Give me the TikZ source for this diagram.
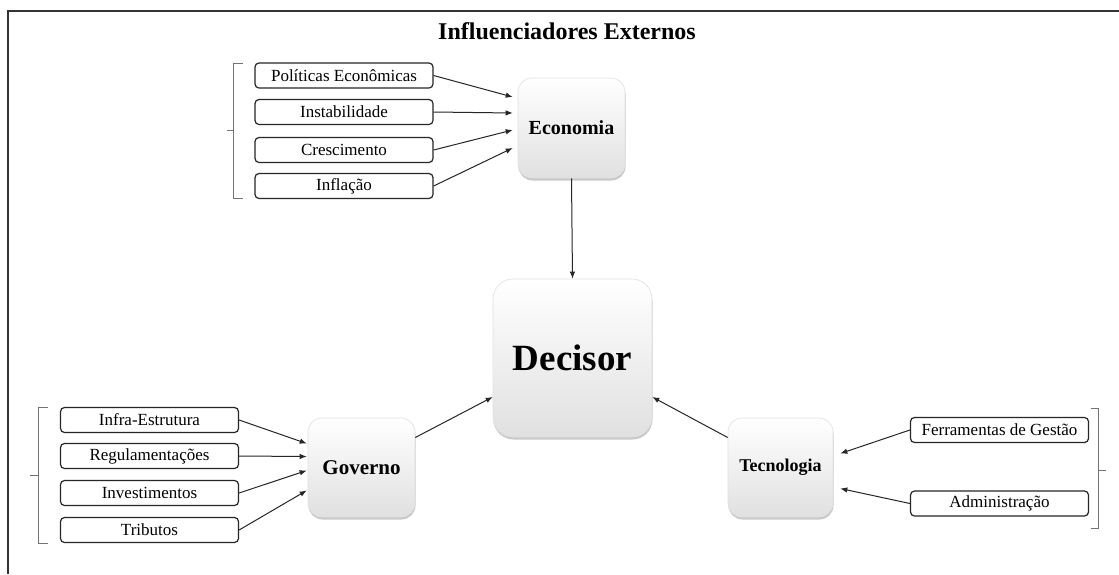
\documentclass[tikz,border=0pt]{standalone}
\usepackage{fontspec}
\setmainfont{Liberation Serif}
\newfontfamily\tnrfont{Liberation Serif}
\usetikzlibrary{arrows.meta,shadows,calc}
\begin{document}
\begin{tikzpicture}[x=1pt,y=-1pt,
  smallbox/.style={draw=black!85, line width=1.2pt, rounded corners=4pt, minimum width=178pt, minimum height=25pt, inner sep=0pt, font=\tnrfont\fontsize{17}{19}\selectfont},
  bigbox/.style={draw=black!12, line width=0.6pt, rounded corners=14pt, top color=white, bottom color=black!12, inner sep=0pt,
     drop shadow={shadow xshift=0.5pt, shadow yshift=-2.5pt, opacity=0.35, fill=black!60}},
  arr/.style={-{Latex[length=7pt,width=5.5pt]}, line width=1pt, draw=black!85},
  brace/.style={draw=black!55, line width=0.9pt}
]
\useasboundingbox (0,0) rectangle (1119,574);
\fill[white] (0,0) rectangle (1119,574);
\draw[line width=1.6pt, draw=black!80] (8,574) -- (8,11) -- (1119,11);

\node[font=\tnrfont\bfseries\fontsize{24}{26}\selectfont] (title) at (567,31) {Influenciadores Externos};

% big boxes
\node[bigbox, minimum width=107pt, minimum height=100pt, font=\tnrfont\bfseries\fontsize{20}{22}\selectfont] (eco) at (571.5,128) {Economia};
\node[bigbox, minimum width=159pt, minimum height=158pt, rounded corners=20pt, font=\tnrfont\bfseries\fontsize{37}{40}\selectfont] (dec) at (572.5,358) {Decisor};
\node[bigbox, minimum width=107pt, minimum height=99pt, font=\tnrfont\bfseries\fontsize{21}{23}\selectfont] (gov) at (361.5,467.5) {Governo};
\node[bigbox, minimum width=105pt, minimum height=99pt, font=\tnrfont\bfseries\fontsize{18}{20}\selectfont] (tec) at (780.5,467.5) {Tecnologia};

% economy items
\node[smallbox] (p1) at (344,75.5) {Políticas Econômicas};
\node[smallbox] (p2) at (344,112) {Instabilidade};
\node[smallbox] (p3) at (344,150) {Crescimento};
\node[smallbox] (p4) at (344,186) {Inflação};

% government items
\node[smallbox] (g1) at (149.5,420) {Infra-Estrutura};
\node[smallbox] (g2) at (149.5,456) {Regulamentações};
\node[smallbox] (g3) at (149.5,493) {Investimentos};
\node[smallbox] (g4) at (149.5,530) {Tributos};

% technology items
\node[smallbox] (t1) at (999.5,430) {Ferramentas de Gestão};
\node[smallbox] (t2) at (999.5,503.5) {Administração};

% arrows to Economia
\draw[arr] (p1.east) -- ([shift={(-5,-31)}]eco.west);
\draw[arr] (p2.east) -- ([shift={(-5,-15)}]eco.west);
\draw[arr] (p3.east) -- ([shift={(-5,2)}]eco.west);
\draw[arr] (p4.east) -- ([shift={(-5,20)}]eco.west);

% arrows to Governo
\draw[arr] (g1.east) -- ([shift={(-1,-24)}]gov.west);
\draw[arr] (g2.east) -- ([shift={(-1,-11)}]gov.west);
\draw[arr] (g3.east) -- ([shift={(-1,3)}]gov.west);
\draw[arr] (g4.east) -- ([shift={(-1,23)}]gov.west);

% arrows to Tecnologia
\draw[arr] (t1.west) -- ([shift={(7,-14)}]tec.east);
\draw[arr] (t2.west) -- ([shift={(7,21)}]tec.east);

% arrows to Decisor
\draw[arr] (eco.south) -- (dec.north);
\draw[arr] ([shift={(0,-30)}]gov.east) -- ([shift={(0,39)}]dec.west);
\draw[arr] ([shift={(0,-30)}]tec.west) -- ([shift={(0,39)}]dec.east);

% braces
\draw[brace] (243,63) -- (233,63) -- (233,198) -- (243,198);
\draw[brace] (233,130) -- (227,130);
\draw[brace] (48,407) -- (38,407) -- (38,543) -- (48,543);
\draw[brace] (38,475) -- (30,475);
\draw[brace] (1091,408) -- (1098,408) -- (1098,528) -- (1091,528);
\draw[brace] (1098,470) -- (1106,470);
\end{tikzpicture}
\end{document}
